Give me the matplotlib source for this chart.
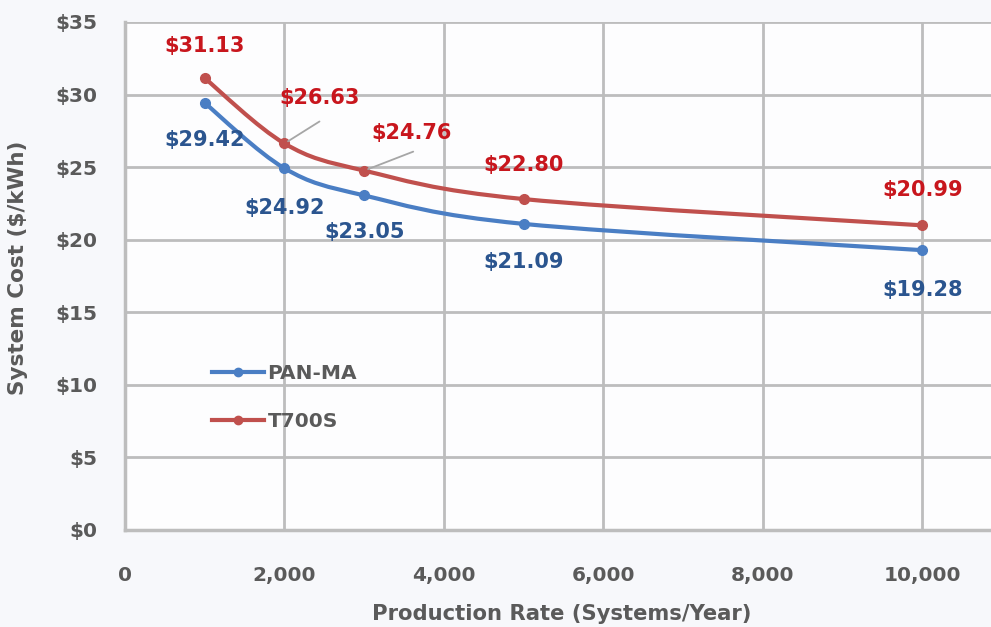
import matplotlib
matplotlib.use("Agg")
import matplotlib.pyplot as plt
from matplotlib.path import Path
from matplotlib.patches import PathPatch
from matplotlib.lines import Line2D
import numpy as np

plt.rcParams['font.family'] = ['DejaVu Sans']

# ---- data ----
production = [1000, 2000, 3000, 5000, 10000]
pan_ma = [29.42, 24.92, 23.05, 21.09, 19.28]
t700s = [31.13, 26.63, 24.76, 22.80, 20.99]
series_names = ["PAN-MA", "T700S"]
x_ticks = [0, 2000, 4000, 6000, 8000, 10000]
x_tick_labels = ["0", "2,000", "4,000", "6,000", "8,000", "10,000"]
y_ticks = [0, 5, 10, 15, 20, 25, 30, 35]
y_tick_labels = ["$0", "$5", "$10", "$15", "$20", "$25", "$30", "$35"]

# ---- styles ----
blue_line = "#4a7ec4"
red_line = "#c0504d"
blue_text = "#2b558f"
red_text = "#c8161d"
grey_text = "#5a5a5a"
grid_col = "#bdbdbd"

# label offsets in pixels (dx, dy); leader end offsets in pixels (or None)
blue_offsets = [(0, -37), (0, -40), (0, -37), (0, -38), (0, -40)]
red_offsets = [(0, 32), (35, 45), (47, 38), (0, 34), (0, 35)]
red_leaders = [None, (35, 22), (49, 19), None, None]

PX = 0.72  # pixels -> points at 100 dpi

fig = plt.figure(figsize=(9.91, 6.27), dpi=100)
fig.patch.set_facecolor("#f7f8fb")
ax = fig.add_axes([125 / 991, 1 - 530 / 627, 1 - 125 / 991, (530 - 22) / 627])
ax.set_facecolor("#fdfdfe")

ax.set_xlim(0, 10860)
ax.set_ylim(0, 35)


def smooth_path(xs, ys):
    pts = np.column_stack([xs, ys]).astype(float)
    n = len(pts)
    verts = [pts[0]]
    codes = [Path.MOVETO]
    for i in range(n - 1):
        p0 = pts[i - 1] if i > 0 else pts[i]
        p1 = pts[i]
        p2 = pts[i + 1]
        p3 = pts[i + 2] if i + 2 < n else pts[i + 1]
        c1 = p1 + (p2 - p0) / 6.0
        c2 = p2 - (p3 - p1) / 6.0
        verts += [c1, c2, p2]
        codes += [Path.CURVE4] * 3
    return Path(verts, codes)


for ys, col in [(pan_ma, blue_line), (t700s, red_line)]:
    patch = PathPatch(smooth_path(production, ys), facecolor="none",
                      edgecolor=col, lw=3, capstyle="round", zorder=3)
    ax.add_patch(patch)
    ax.plot(production, ys, "o", color=col, ms=7, zorder=4)

LBL = 15
for xv, yv, (dx, dy) in zip(production, pan_ma, blue_offsets):
    ax.annotate(f"${yv:.2f}", (xv, yv), xytext=(dx * PX, dy * PX),
                textcoords="offset points", ha="center", va="center",
                color=blue_text, fontsize=LBL, fontweight="bold", zorder=5)

for xv, yv, (dx, dy), lead in zip(production, t700s, red_offsets, red_leaders):
    ax.annotate(f"${yv:.2f}", (xv, yv), xytext=(dx * PX, dy * PX),
                textcoords="offset points", ha="center", va="center",
                color=red_text, fontsize=LBL, fontweight="bold", zorder=5)
    if lead is not None:
        ax.annotate("", (xv, yv), xytext=(lead[0] * PX, lead[1] * PX),
                    textcoords="offset points",
                    arrowprops=dict(arrowstyle="-", color="#a6a6a6", lw=1.3,
                                    shrinkA=0, shrinkB=3), zorder=4)

ax.set_xticks(x_ticks)
ax.set_xticklabels(x_tick_labels)
ax.set_yticks(y_ticks)
ax.set_yticklabels(y_tick_labels)
ax.tick_params(length=0, labelsize=14.5, labelcolor=grey_text)
ax.tick_params(axis="x", pad=26)
ax.tick_params(axis="y", pad=20)
for lab in ax.get_xticklabels() + ax.get_yticklabels():
    lab.set_fontweight("bold")

ax.grid(True, color=grid_col, lw=2)
ax.set_axisbelow(True)
for s in ["top", "right"]:
    ax.spines[s].set_visible(False)
for s in ["left", "bottom"]:
    ax.spines[s].set_color(grid_col)
    ax.spines[s].set_linewidth(2.5)

ax.set_xlabel("Production Rate (Systems/Year)", fontsize=15.2, fontweight="bold",
              color=grey_text)
ax.set_ylabel("System Cost ($/kWh)", fontsize=15.5, fontweight="bold",
              color=grey_text)
ax.xaxis.set_label_coords((562 - 125) / (991 - 125), -(604 - 530) / (530 - 22))
ax.yaxis.set_label_coords(-(125 - 28) / (991 - 125), (530 - 268) / (530 - 22))

handles = [Line2D([], [], color=blue_line, lw=3, marker="o", ms=6),
           Line2D([], [], color=red_line, lw=3, marker="o", ms=6)]
leg = ax.legend(handles, series_names, loc="upper left",
                bbox_to_anchor=((194 - 125) / 866, (530 - 346) / 508),
                frameon=False, handlelength=2.6, handletextpad=0.15,
                labelspacing=1.45, prop=dict(size=14.5, weight="bold"))
for t in leg.get_texts():
    t.set_color(grey_text)

fig.savefig("out.png", dpi=100, facecolor=fig.get_facecolor())
